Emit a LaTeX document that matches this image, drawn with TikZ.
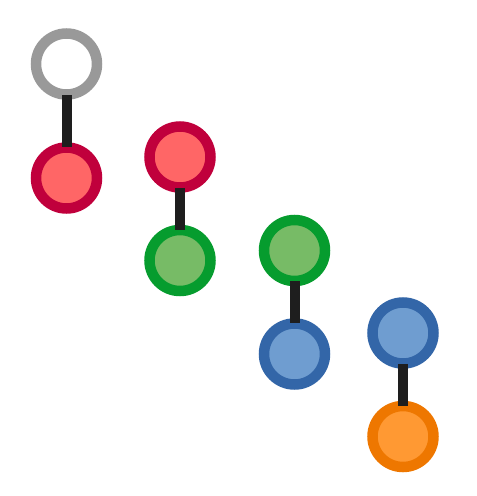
\documentclass[tikz,border=0pt]{standalone}
\usetikzlibrary{positioning}
\definecolor{ink}{HTML}{1E1E1E}
\definecolor{gring}{HTML}{999999}
\definecolor{rring}{HTML}{C0003C}
\definecolor{rfill}{HTML}{FF6666}
\definecolor{gnring}{HTML}{069C2E}
\definecolor{gnfill}{HTML}{77BB66}
\definecolor{bring}{HTML}{3366A8}
\definecolor{bfill}{HTML}{6F9DD0}
\definecolor{oring}{HTML}{EE7700}
\definecolor{ofill}{HTML}{FF9933}
\def\dy{103.5}
\tikzset{
  ring/.style={circle,inner sep=0pt,minimum size=61pt,line width=10.5pt},
  blank/.style={ring,draw=gring,fill=white},
  red/.style={ring,draw=rring,fill=rfill},
  green/.style={ring,draw=gnring,fill=gnfill},
  blue/.style={ring,draw=bring,fill=bfill},
  orange/.style={ring,draw=oring,fill=ofill},
  link/.style={ink,line width=10pt,shorten <=-5pt,shorten >=-5pt},
}

\begin{document}
\begin{tikzpicture}[x=1pt,y=-1pt]
\useasboundingbox (0,0) rectangle (477,496);

% ---------------------------------------------------------------- parents
\node[blank]  (p1) at (66.5,64)  {};
\node[red]    (p2) at (180,157)  {};
\node[green]  (p3) at (294.5,250.5) {};
\node[blue]   (p4) at (403,333)  {};

% ---------------------------------------------------------------- children
\node[red]    (c1) at (66.5,178)  {};
\node[green]  (c2) at (180,157+\dy)  {};
\node[blue]   (c3) at (294.5,250.5+\dy) {};
\node[orange] (c4) at (403,333+\dy)  {};

% ---------------------------------------------------------------- links
\foreach \i in {1,...,4} {\draw[link] (p\i) -- (c\i);}

\end{tikzpicture}
\end{document}
